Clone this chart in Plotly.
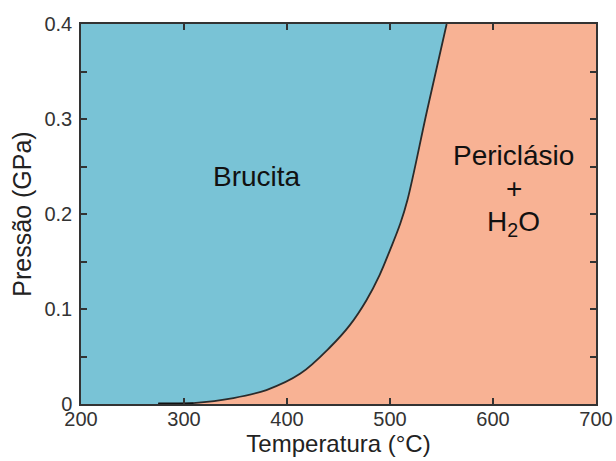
import plotly.graph_objects as go

# Boundary curve (Brucita = Periclásio + H2O)
temp_c = [275, 309, 348, 380, 413, 442, 461, 477, 490, 500, 510, 517, 536, 555]
press_gpa = [0, 0.001, 0.0063, 0.0147, 0.032, 0.060, 0.083, 0.109, 0.136, 0.162, 0.19, 0.215, 0.309, 0.4]

x_range = [200, 700]
y_range = [0, 0.4]
x_ticks = [200, 300, 400, 500, 600, 700]
y_ticks = [0, 0.1, 0.2, 0.3, 0.4]
y_tick_text = ["0", "0.1", "0.2", "0.3", "0.4"]

blue = "#79c3d6"
salmon = "#f8b294"

fig = go.Figure()
# left edge (x = 200) for filling
fig.add_trace(go.Scatter(x=[x_range[0], x_range[0]], y=[y_range[0], y_range[1]],
                         mode="lines", line=dict(width=0, color=blue),
                         showlegend=False, hoverinfo="skip"))
fig.add_trace(go.Scatter(x=temp_c, y=press_gpa, mode="lines",
                         line=dict(color="#2b2b2b", width=1.8, shape="spline", smoothing=1.0),
                         fill="tonextx", fillcolor=blue, showlegend=False))
# thick start segment along the axis
fig.add_trace(go.Scatter(x=temp_c[:2], y=press_gpa[:1] * 2, mode="lines",
                         line=dict(color="#111111", width=3), showlegend=False))

font_main = "Liberation Sans, Arial, sans-serif"
ann_font = dict(size=28, color="#111", family=font_main)
fig.add_annotation(x=371, y=0.239, text="Brucita", showarrow=False, font=ann_font)
fig.add_annotation(x=620, y=0.262, text="Periclásio", showarrow=False, font=ann_font)
fig.add_annotation(x=620, y=0.227, text="+", showarrow=False, font=ann_font)
fig.add_annotation(x=620, y=0.190, text="H<sub>2</sub>O", showarrow=False, font=ann_font)

axis_common = dict(showline=True, linecolor="#333", linewidth=1.5, mirror="allticks",
                   ticks="inside", tickcolor="#333", ticklen=6, tickwidth=1.5,
                   showgrid=False, zeroline=False, automargin=False,
                   tickfont=dict(size=20, color="#333", family=font_main))

fig.update_xaxes(range=x_range, tickvals=x_ticks,
                 title=dict(text="Temperatura (°C)",
                            font=dict(size=24, color="#222", family=font_main), standoff=6),
                 ticklabelstandoff=-4, **axis_common)
fig.update_yaxes(range=y_range, tickvals=y_ticks, ticktext=y_tick_text,
                 title=dict(text="Pressão (GPa)",
                            font=dict(size=25, color="#222", family=font_main), standoff=6),
                 minor=dict(dtick=0.05, ticks="inside", ticklen=6, tickcolor="#333", tickwidth=1.5),
                 ticklabelstandoff=3, **axis_common)

fig.update_layout(width=616, height=461, margin=dict(l=81, r=20, t=24, b=57),
                  plot_bgcolor=salmon, paper_bgcolor="white",
                  font=dict(family=font_main))
fig.write_html("out.html", config={"displayModeBar": False},
               post_script="document.body.style.margin='0';document.body.style.overflow='hidden';")
